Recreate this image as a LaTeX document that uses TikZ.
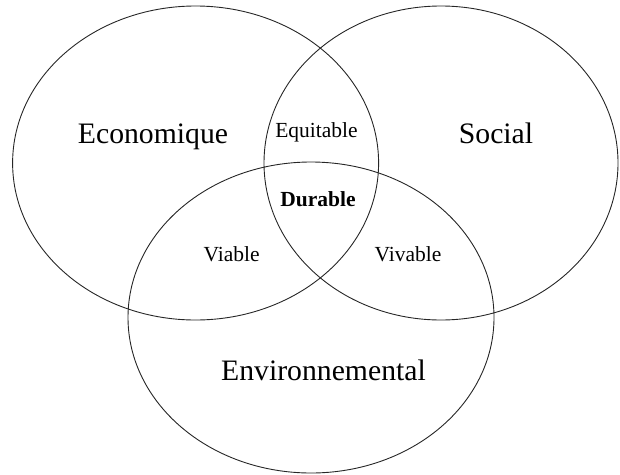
\documentclass[tikz,border=0pt]{standalone}
\usepackage{fontspec}
\setmainfont{Liberation Serif}
\begin{document}
\begin{tikzpicture}[x=1pt,y=-1pt,
    set/.style={draw=black!85,line width=0.9pt},
    big/.style={anchor=base,font=\fontsize{29.7}{32}\selectfont},
    small/.style={anchor=base,font=\fontsize{21.5}{24}\selectfont}]
    \useasboundingbox (0,0) rectangle (620,474);
    % the three sets
    \coordinate (ceco) at (195.6,163);
    \coordinate (csoc) at (441,163);
    \coordinate (cenv) at (311,317.5);
    \draw [set] (ceco) ellipse [x radius=183, y radius=157];
    \draw [set] (csoc) ellipse [x radius=177, y radius=157];
    \draw [set] (cenv) ellipse [x radius=183, y radius=155.5];
    % labels
    \node [big] (eco) at (153,143) {Economique};
    \node [big] (soc) at (496,143) {Social};
    \node [big] (env) at (323.5,380) {Environnemental};
    \node [small] (equ) at (316.5,137) {Equitable};
    \node [small,font=\fontsize{21.5}{24}\selectfont\bfseries] (dur) at (318,206.5) {Durable};
    \node [small] (via) at (231.6,261) {Viable};
    \node [small] (viv) at (408,261) {Vivable};
\end{tikzpicture}
\end{document}
